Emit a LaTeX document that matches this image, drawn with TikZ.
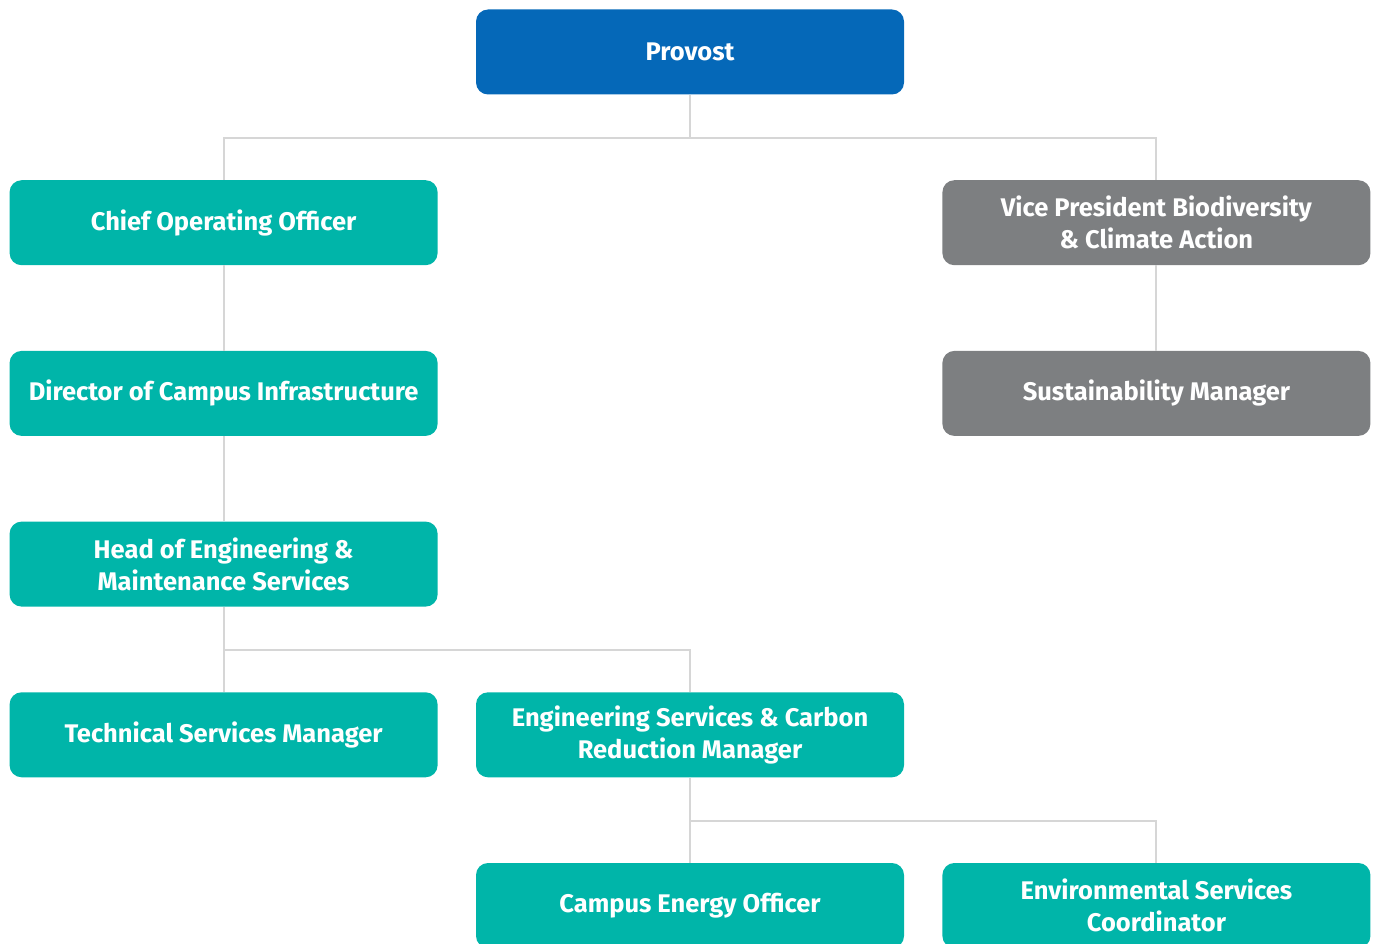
\documentclass[tikz,border=0pt]{standalone}
\usepackage{fontspec}
\setmainfont{Fira Sans}
\usetikzlibrary{positioning}

\definecolor{provostblue}{HTML}{0568B8}
\definecolor{opsteal}{HTML}{00B5A9}
\definecolor{climategray}{HTML}{7D7F81}
\definecolor{linkgray}{HTML}{D6D6D6}

\begin{document}
\begin{tikzpicture}[x=1pt,y=1pt,node distance=85.3pt and 38pt,
		box/.style={rounded corners=12pt,minimum width=428pt,minimum height=85pt,inner sep=0pt,
			text=white,align=center,font=\fontsize{25.5}{32}\selectfont\bfseries},
		ops/.style={box,fill=opsteal},
		climate/.style={box,fill=climategray},
		link/.style={draw=linkgray,line width=2pt}]
		\useasboundingbox (0,0) rectangle (1378,-944);
		
		\node[box,fill=provostblue] (provost) at (690,-52) {Provost};
		
		\node[ops,below left=of provost] (coo) {Chief Operating Officer};
		\node[climate,below right=of provost] (vp) {Vice President Biodiversity\\\& Climate Action};
		
		\node[ops,below=of coo] (director) {Director of Campus Infrastructure};
		\node[climate,below=of vp] (sustain) {Sustainability Manager};
		
		\node[ops,below=of director] (head) {Head of Engineering \&\\Maintenance Services};
		
		\node[ops,below=of head] (tech) {Technical Services Manager};
		\node[ops,right=of tech] (carbon) {Engineering Services \& Carbon\\Reduction Manager};
		
		\node[ops,below=of carbon] (energy) {Campus Energy Officer};
		\node[ops,right=of energy] (enviro) {Environmental Services\\Coordinator};
		
		\draw[link] (provost.south) -- ++(0,-43) -| (coo.north);
		\draw[link] (provost.south) -- ++(0,-43) -| (vp.north);
		
		\draw[link] (coo) -- (director);
		\draw[link] (director) -- (head);
		\draw[link] (vp) -- (sustain);
		
		\draw[link] (head) -- (tech);
		\draw[link] (head.south) -- ++(0,-43) -| (carbon.north);
		
		\draw[link] (carbon) -- (energy);
		\draw[link] (carbon.south) -- ++(0,-43) -| (enviro.north);
	\end{tikzpicture}
\end{document}
